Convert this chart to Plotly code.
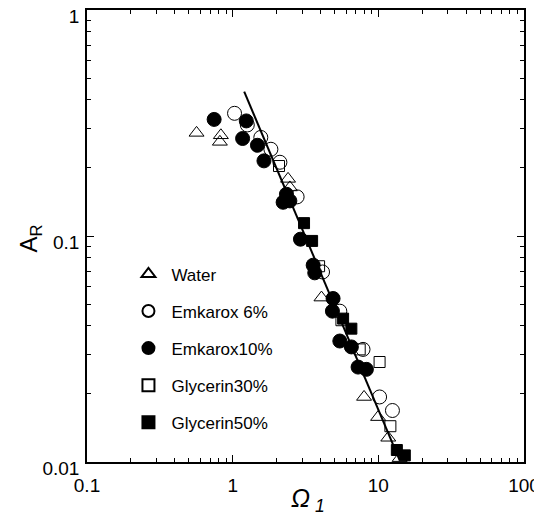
import plotly.graph_objects as go

# Water (open triangles)
water_x = [0.565, 0.83, 0.817, 2.40, 2.47, 4.07, 7.98, 9.96, 11.7, 14.0]
water_y = [0.286, 0.279, 0.261, 0.179, 0.164, 0.0534, 0.0194, 0.0158, 0.0128, 0.0104]

# Emkarox 6% (open circles)
emk6_x = [1.03, 1.26, 1.56, 1.83, 2.11, 2.77, 4.14, 5.44, 7.85, 10.2, 12.5]
emk6_y = [0.349, 0.31, 0.273, 0.242, 0.212, 0.149, 0.0693, 0.0465, 0.0315, 0.0194, 0.0169]

# Emkarox 10% (filled circles)
emk10_x = [0.746, 1.24, 1.17, 1.48, 1.64, 2.34, 2.22, 2.47, 2.92, 3.57, 3.66, 4.89, 4.84, 5.44, 6.53, 7.26, 8.28]
emk10_y = [0.328, 0.323, 0.27, 0.252, 0.215, 0.153, 0.141, 0.143, 0.0968, 0.0743, 0.0687, 0.0529, 0.0465, 0.0343, 0.0323, 0.0263, 0.0257]

# Glycerin 30% (open squares)
gly30_x = [2.08, 3.92, 5.58, 7.45, 10.2, 12.1]
gly30_y = [0.204, 0.0735, 0.0424, 0.0315, 0.0277, 0.0144]

# Glycerin 50% (filled squares)
gly50_x = [3.09, 3.51, 5.73, 6.53, 13.4, 15.2]
gly50_y = [0.114, 0.0951, 0.0431, 0.0389, 0.0113, 0.0107]

# fitted line endpoints
fit_x = [1.2, 14.0]
fit_y = [0.435, 0.0102]

x_tickvals = [0.1, 1, 10, 100]
x_ticktext = ["0.1", "1", "10", "100"]
x_minor = [m * d for d in (0.1, 1, 10) for m in range(2, 10)]
y_tickvals = [0.01, 0.1, 1]
y_ticktext = ["0.01", "0.1", "1"]
y_minor = [m * d for d in (0.01, 0.1) for m in range(2, 10)]

FONT = "Liberation Sans, Arial, sans-serif"

fig = go.Figure()

fig.add_trace(go.Scatter(x=fit_x, y=fit_y, mode="lines", line=dict(color="black", width=2),
                         showlegend=False))

series = [
    ("Water", water_x, water_y, "triangle-up-open", 13),
    ("Emkarox 6%", emk6_x, emk6_y, "circle-open", 14),
    ("Emkarox10%", emk10_x, emk10_y, "circle", 14),
    ("Glycerin30%", gly30_x, gly30_y, "square-open", 11),
    ("Glycerin50%", gly50_x, gly50_y, "square", 11),
]
for name, xs, ys, sym, sz in series:
    fig.add_trace(go.Scatter(
        x=xs, y=ys, mode="markers", name=name, legendgroup=name,
        marker=dict(symbol=sym, size=sz, color="black", line=dict(color="black", width=1)),
    ))

axis_common = dict(
    type="log", showline=True, linecolor="black", linewidth=1.5, mirror="allticks",
    ticks="inside", ticklen=7, tickwidth=1.2, tickcolor="black", showgrid=False,
    zeroline=False, tickfont=dict(family=FONT, size=19, color="black"), automargin=False,
    ticklabeloverflow="allow",
)

fig.update_xaxes(range=[-1, 2], tickmode="array", tickvals=x_tickvals, ticktext=x_ticktext,
                 ticklabelstandoff=5,
                 minor=dict(tickmode="array", tickvals=x_minor, ticks="inside", ticklen=4,
                            tickwidth=1, tickcolor="black", showgrid=False),
                 **axis_common)
fig.update_yaxes(range=[-2, 0], tickmode="array", tickvals=y_tickvals, ticktext=y_ticktext,
                 ticklabelstandoff=2, ticklabelshift=6,
                 minor=dict(tickmode="array", tickvals=y_minor, ticks="inside", ticklen=4,
                            tickwidth=1, tickcolor="black", showgrid=False),
                 **axis_common)

fig.update_layout(
    width=534, height=509,
    margin=dict(l=79, r=18, t=2, b=55),
    paper_bgcolor="white", plot_bgcolor="white",
    legend=dict(x=0.088, y=0.455, xanchor="left", yanchor="top", itemwidth=36,
                font=dict(family=FONT, size=17, color="black"),
                bgcolor="rgba(0,0,0,0)", tracegroupgap=12, itemsizing="constant"),
    annotations=[
        dict(text="<i>Ω</i><sub> <i>1</i></sub>", xref="paper", yref="paper", x=0.505, y=-0.083,
             xanchor="center", yanchor="middle", showarrow=False,
             font=dict(family=FONT, size=25, color="black")),
        dict(text="A<sub>R</sub>", xref="paper", yref="paper", x=-0.13, y=0.495,
             xanchor="center", yanchor="middle", showarrow=False, textangle=-90,
             font=dict(family=FONT, size=24, color="black")),
    ],
)

fig.write_html("out.html")
